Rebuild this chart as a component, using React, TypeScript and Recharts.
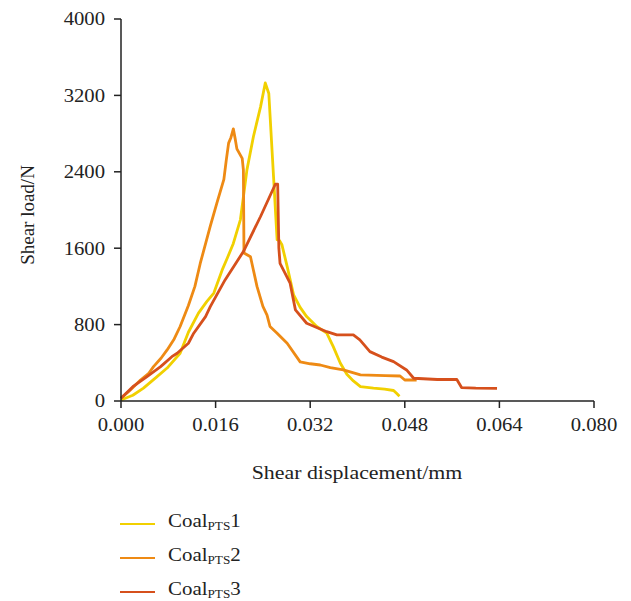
import { LineChart, Line, XAxis, YAxis } from 'recharts';

// shear displacement (mm) and shear load (N) for each specimen
const coal1Disp = [0, 0.002, 0.0038, 0.006, 0.0078, 0.01, 0.0114, 0.0131, 0.0145, 0.0157, 0.0171, 0.018, 0.019, 0.0202, 0.0213, 0.0224, 0.0236, 0.0244, 0.025, 0.0258, 0.0264, 0.0268, 0.0272, 0.0281, 0.0292, 0.0303, 0.0314, 0.0331, 0.0348, 0.0359, 0.0371, 0.0382, 0.0393, 0.0405, 0.0427, 0.0446, 0.0461, 0.0466, 0.0471];
const coal1Load = [10, 60, 135, 250, 345, 500, 720, 920, 1040, 1130, 1370, 1500, 1650, 1900, 2420, 2770, 3080, 3330, 3220, 2350, 1690, 1680, 1640, 1410, 1110, 980, 884, 780, 710, 569, 395, 280, 210, 150, 135, 125, 110, 80, 50];

const coal2Disp = [0, 0.0015, 0.0033, 0.0047, 0.0055, 0.0068, 0.0078, 0.009, 0.01, 0.0114, 0.0125, 0.0134, 0.0151, 0.0162, 0.0174, 0.0178, 0.0182, 0.0186, 0.019, 0.0193, 0.0196, 0.0205, 0.0207, 0.0208, 0.0219, 0.023, 0.024, 0.0247, 0.0252, 0.0264, 0.0281, 0.0303, 0.032, 0.0337, 0.0354, 0.0376, 0.0405, 0.0447, 0.0472, 0.048, 0.05];
const coal2Load = [30, 110, 220, 290, 360, 450, 535, 650, 780, 1000, 1200, 1440, 1830, 2070, 2320, 2520, 2700, 2760, 2850, 2750, 2640, 2540, 2420, 1550, 1510, 1200, 990, 900, 780, 710, 605, 410, 390, 377, 349, 325, 273, 265, 262, 220, 220];

const coal3Disp = [0, 0.002, 0.0044, 0.0067, 0.0086, 0.0095, 0.0114, 0.0123, 0.0143, 0.0151, 0.0176, 0.0207, 0.0236, 0.0261, 0.0265, 0.0267, 0.0269, 0.0286, 0.0295, 0.0314, 0.0331, 0.0348, 0.0365, 0.0393, 0.0404, 0.0421, 0.0441, 0.0461, 0.0483, 0.0495, 0.0535, 0.0568, 0.0576, 0.06, 0.0636];
const coal3Load = [30, 150, 255, 360, 464, 500, 605, 710, 884, 988, 1268, 1565, 1932, 2270, 2270, 1600, 1440, 1234, 954, 814, 770, 726, 692, 692, 640, 517, 460, 412, 325, 238, 225, 225, 141, 135, 133];

const xTicks = [0, 0.016, 0.032, 0.048, 0.064, 0.08];
const yTicks = [0, 800, 1600, 2400, 3200, 4000];

const seriesNames = ['1', '2', '3'];
const seriesColors = ['#f1d000', '#ee8a14', '#d6501c'];

const toPoints = (disp: number[], load: number[]) => disp.map((x, i) => ({ x, y: load[i] }));

const series = [
  toPoints(coal1Disp, coal1Load),
  toPoints(coal2Disp, coal2Load),
  toPoints(coal3Disp, coal3Load),
];

const FONT = '"Liberation Serif", "Times New Roman", serif';
const STRETCH = 1.15; // labels are set slightly wide

function XTick({ x, y, payload }: any) {
  return (
    <text transform={`translate(${x},${y}) scale(${STRETCH},1)`} textAnchor="middle" dy="0.71em" fill="#222" fontSize={18} fontFamily={FONT}>
      {Number(payload.value).toFixed(3)}
    </text>
  );
}

function YTick({ x, y, payload }: any) {
  return (
    <text transform={`translate(${x},${y}) scale(${STRETCH},1)`} textAnchor="end" dy="0.355em" fill="#222" fontSize={18} fontFamily={FONT}>
      {payload.value}
    </text>
  );
}

export default function App() {
  return (
    <div style={{ position: 'absolute', left: 0, top: 0, width: 631, height: 601, overflow: 'hidden', background: '#fff', fontFamily: FONT, color: '#222' }}>
      <LineChart width={631} height={601} margin={{ top: 19, right: 37, left: 61, bottom: 170 }}>
        <XAxis
          type="number"
          dataKey="x"
          domain={[0, 0.08]}
          ticks={xTicks}
          tickSize={7}
          tickMargin={10}
          height={30}
          stroke="#222"
          strokeWidth={1.5}
          tick={<XTick />}
          allowDuplicatedCategory={false}
        />
        <YAxis
          type="number"
          dataKey="y"
          domain={[0, 4000]}
          ticks={yTicks}
          tickSize={7}
          tickMargin={9}
          width={60}
          stroke="#222"
          strokeWidth={1.5}
          tick={<YTick />}
        />
        {series.map((pts, i) => (
          <Line
            key={seriesNames[i]}
            data={pts}
            dataKey="y"
            type="linear"
            stroke={seriesColors[i]}
            strokeWidth={2.8}
            strokeLinejoin="round"
            dot={false}
            isAnimationActive={false}
          />
        ))}
      </LineChart>

      <div style={{ position: 'absolute', left: 27, top: 215, fontSize: 19, lineHeight: 1, transform: 'translate(-50%, -50%) rotate(-90deg)', whiteSpace: 'nowrap' }}>
        Shear load/N
      </div>
      <div style={{ position: 'absolute', left: 357, top: 472, fontSize: 19, lineHeight: 1, transform: `translate(-50%, -50%) scale(${STRETCH},1)`, whiteSpace: 'nowrap' }}>
        Shear displacement/mm
      </div>

      {seriesNames.map((name, i) => (
        <div key={name} style={{ position: 'absolute', left: 120, top: 511 + i * 34, height: 20, lineHeight: '20px', display: 'flex', alignItems: 'center', whiteSpace: 'nowrap' }}>
          <span style={{ display: 'inline-block', width: 35, height: 2, marginTop: 6, background: seriesColors[i] }} />
          <span style={{ marginLeft: 13, fontSize: 19, height: 18, lineHeight: '18px', display: 'inline-block', transform: `scale(${STRETCH - 0.05},1)`, transformOrigin: 'left center' }}>
            Coal<span style={{ fontSize: 12, lineHeight: 1, position: 'relative', top: 3 }}>PTS</span>{name}
          </span>
        </div>
      ))}
    </div>
  );
}
